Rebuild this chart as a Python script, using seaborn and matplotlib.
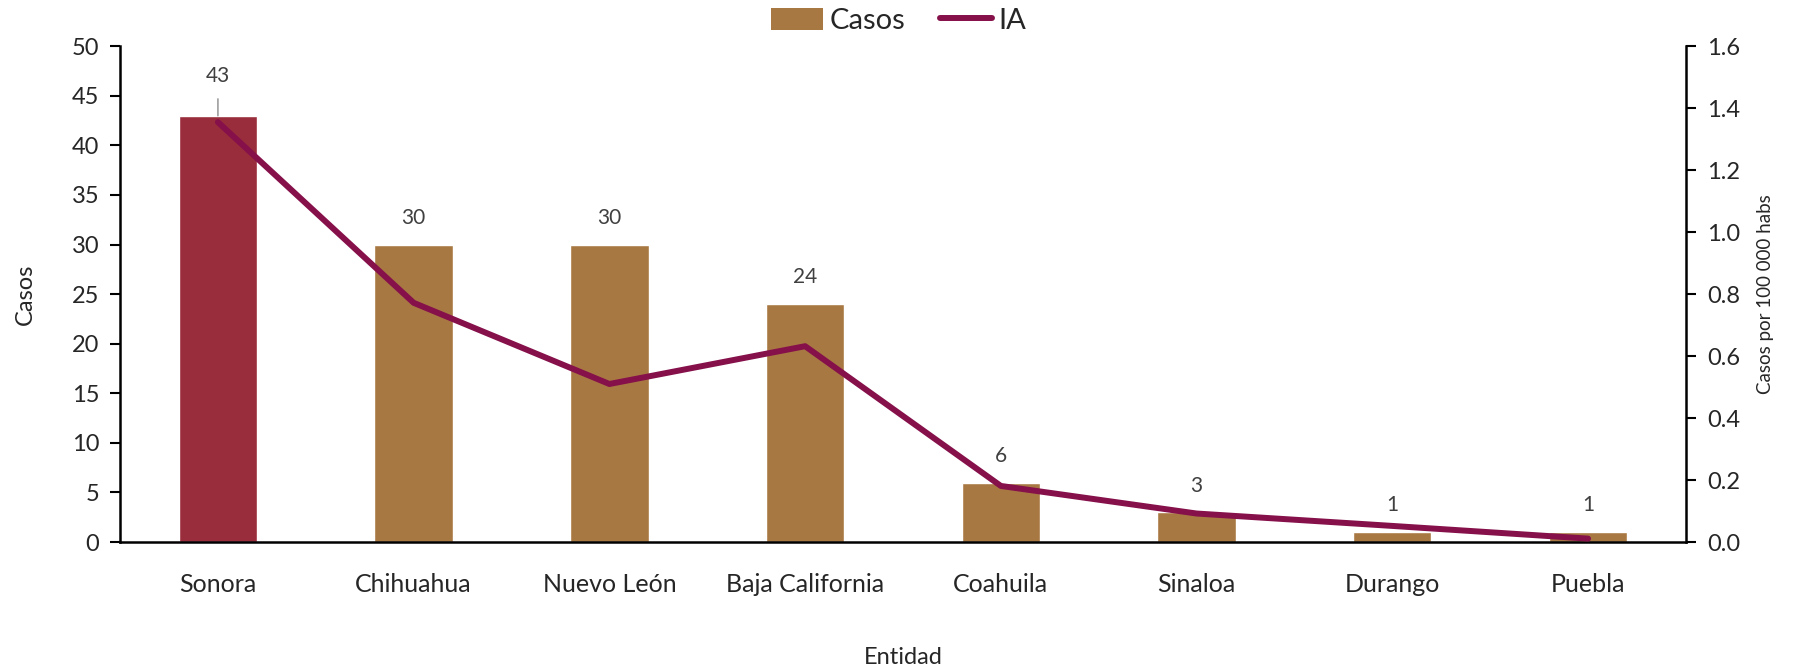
import numpy as np
import pandas as pd
import seaborn as sns
import matplotlib.pyplot as plt
from matplotlib.patches import Patch
from matplotlib.lines import Line2D

# data
entidades = ['Sonora', 'Chihuahua', 'Nuevo León', 'Baja California',
             'Coahuila', 'Sinaloa', 'Durango', 'Puebla']
casos = [43, 30, 30, 24, 6, 3, 1, 1]
ia = [1.355, 0.772, 0.51, 0.632, 0.181, 0.092, 0.052, 0.011]

BAR = '#A87843'
BAR_TOP = '#9A2D3C'
LINE = '#85104A'

sns.set_style('white')
plt.rcParams['font.family'] = ['Lato', 'DejaVu Sans']

df = pd.DataFrame({'Entidad': entidades, 'Casos': casos, 'IA': ia})
colors = [BAR_TOP] + [BAR] * (len(entidades) - 1)

fig = plt.figure(figsize=(17.97, 6.70), dpi=100)
ax = fig.add_axes([0.0668, 0.191, 0.8714, 0.740])

sns.barplot(data=df, x='Entidad', y='Casos', hue='Entidad', palette=colors,
            width=0.4, legend=False, ax=ax, saturation=1)

ax.set_ylim(0, 50)
ax.set_yticks(range(0, 51, 5))
ax.set_xlim(-0.5, len(entidades) - 0.5)
ax.set_xticks(np.arange(-0.5, len(entidades), 1))
ax.set_xticklabels([])
ax.set_xticks(range(len(entidades)), minor=True)
ax.set_xticklabels(entidades, minor=True)
ax.tick_params(axis='x', which='major', length=8, width=1.5, direction='out', color='black')
ax.tick_params(axis='x', which='minor', length=0, pad=22, labelsize=18)
ax.tick_params(axis='y', length=7, width=1.5, direction='out', labelsize=17,
               color='black', pad=8)
for s in ['top', 'right']:
    ax.spines[s].set_visible(False)
for s in ['left', 'bottom']:
    ax.spines[s].set_linewidth(1.8)
    ax.spines[s].set_color('black')
ax.set_xlabel('Entidad', fontsize=17, va='center')
ax.xaxis.set_label_coords(0.5, -0.232)
ax.set_ylabel('Casos', fontsize=17, va='center')
ax.yaxis.set_label_coords(-0.0607, 0.5)

# value labels (Sonora's label sits higher, with a leader line)
for i, v in enumerate(casos):
    if i == 0:
        ax.annotate(str(v), xy=(i, v), xytext=(i, v + 4.0), ha='center', va='center',
                    fontsize=15, color='#404040',
                    arrowprops=dict(arrowstyle='-', color='#A6A6A6', lw=1.3,
                                    shrinkA=7, shrinkB=0))
    else:
        ax.text(i, v + 2.7, str(v), ha='center', va='center', fontsize=15, color='#404040')

ax2 = ax.twinx()
sns.lineplot(x=np.arange(len(entidades)), y=ia, color=LINE, lw=4.3, ax=ax2,
             solid_capstyle='round')
ax2.set_ylim(0, 1.6)
ax2.set_yticks(np.arange(0, 1.61, 0.2))
ax2.set_yticklabels([f'{t:.1f}' for t in np.arange(0, 1.61, 0.2)])
ax2.tick_params(axis='y', length=7, width=1.5, direction='out', labelsize=17,
                color='black', pad=8)
for s in ['top', 'left', 'bottom']:
    ax2.spines[s].set_visible(False)
ax2.spines['right'].set_linewidth(1.8)
ax2.spines['right'].set_color('black')
ax2.set_ylabel('Casos por 100 000 habs', fontsize=13.5, va='center', rotation=90)
ax2.yaxis.set_label_coords(1.0511, 0.5)

handles = [Patch(facecolor=BAR, edgecolor='none', label='Casos'),
           Line2D([0], [0], color=LINE, lw=4.3, solid_capstyle='round', label='IA')]
fig.legend(handles=handles, loc='center', bbox_to_anchor=(0.5, 0.969), ncol=2,
           frameon=False, fontsize=21, handlelength=1.8, handleheight=0.8,
           columnspacing=1.2, handletextpad=0.2)

fig.savefig('out.png', dpi=100)
